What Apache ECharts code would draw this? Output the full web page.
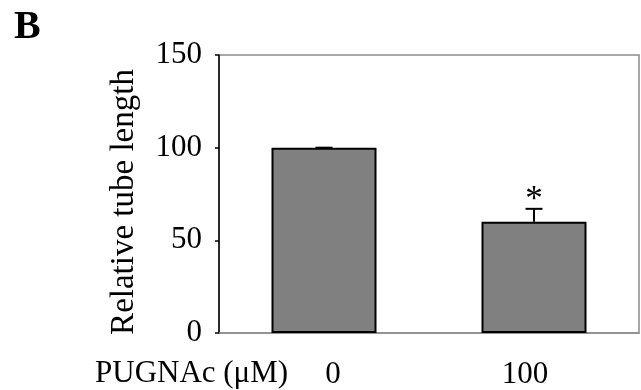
<!DOCTYPE html>
<html>
<head>
<meta charset="utf-8">
<style>html,body{margin:0;padding:0;background:#fff;}#c{width:641px;height:390px;}</style>
<script src="https://cdn.jsdelivr.net/npm/echarts@6/dist/echarts.min.js"></script>
</head>
<body>
<div id="c"></div>
<script>
const categories = ['0', '100'];
const values = [100, 60];
const errors = [0, 7];
const sigMarks = ['', '*'];
const yTicks = [0, 50, 100, 150];

const FONT = '"Liberation Serif", "Times New Roman", serif';
const chart = echarts.init(document.getElementById('c'), null, {renderer: 'canvas'});

chart.setOption({
  animation: false,
  backgroundColor: '#fff',
  grid: {left: 219, right: 2, top: 55, bottom: 57, show: true, borderColor: '#8c8c8c', borderWidth: 1.5, backgroundColor: 'transparent'},
  xAxis: {
    type: 'category',
    data: categories,
    axisLine: {show: true, lineStyle: {color: '#8c8c8c', width: 1.5}},
    axisTick: {show: false},
    axisLabel: {
      color: '#000', fontFamily: FONT, fontSize: 31, margin: 26,
      formatter: function (v, i) { return i === 0 ? '{l|' + v + '}' : '{r|' + v + '}'; },
      rich: {
        l: {fontFamily: FONT, fontSize: 31, color: '#000', padding: [0, 0, 0, 18]},
        r: {fontFamily: FONT, fontSize: 31, color: '#000', padding: [0, 18, 0, 0]}
      }
    },
    splitLine: {show: false}
  },
  yAxis: {
    type: 'value',
    min: yTicks[0], max: yTicks[yTicks.length - 1], interval: 50,
    name: 'Relative tube length',
    nameLocation: 'middle',
    nameGap: 78,
    nameTextStyle: {color: '#000', fontFamily: FONT, fontSize: 33, padding: [0, 16, 0, 0]},
    axisLine: {show: true, lineStyle: {color: '#000', width: 1.5}},
    axisTick: {show: true, inside: false, length: 4, lineStyle: {color: '#000', width: 1.5}},
    axisLabel: {color: '#000', fontFamily: FONT, fontSize: 31, margin: 17},
    splitLine: {show: false}
  },
  series: [
    {
      type: 'bar',
      data: values,
      barWidth: '50%',
      itemStyle: {color: '#808080', borderColor: '#000', borderWidth: 2},
      z: 2
    },
    {
      type: 'custom',
      data: values.map((v, i) => [i, v, v + errors[i], sigMarks[i]]),
      z: 3,
      renderItem: function (params, api) {
        const base = api.coord([api.value(0), api.value(1)]);
        const top = api.coord([api.value(0), api.value(2)]);
        const half = 8.5;
        const children = [
          {type: 'line', shape: {x1: base[0], y1: base[1], x2: top[0], y2: top[1]}, style: {stroke: '#000', lineWidth: 2}},
          {type: 'line', shape: {x1: top[0] - half, y1: top[1], x2: top[0] + half, y2: top[1]}, style: {stroke: '#000', lineWidth: 2}}
        ];
        const mark = sigMarks[params.dataIndex];
        if (mark) {
          children.push({type: 'text', style: {text: mark, x: top[0], y: top[1] + 9, align: 'center', verticalAlign: 'bottom', font: '35px ' + FONT, fill: '#000'}});
        }
        return {type: 'group', children: children};
      }
    }
  ],
  graphic: [
    {type: 'text', left: 14, top: 8, style: {text: 'B', font: 'bold 40px ' + FONT, fill: '#000'}},
    {type: 'text', left: 95, top: 358, style: {text: 'PUGNAc (μM)', font: '31px ' + FONT, fill: '#000'}}
  ]
});
</script>
</body>
</html>
